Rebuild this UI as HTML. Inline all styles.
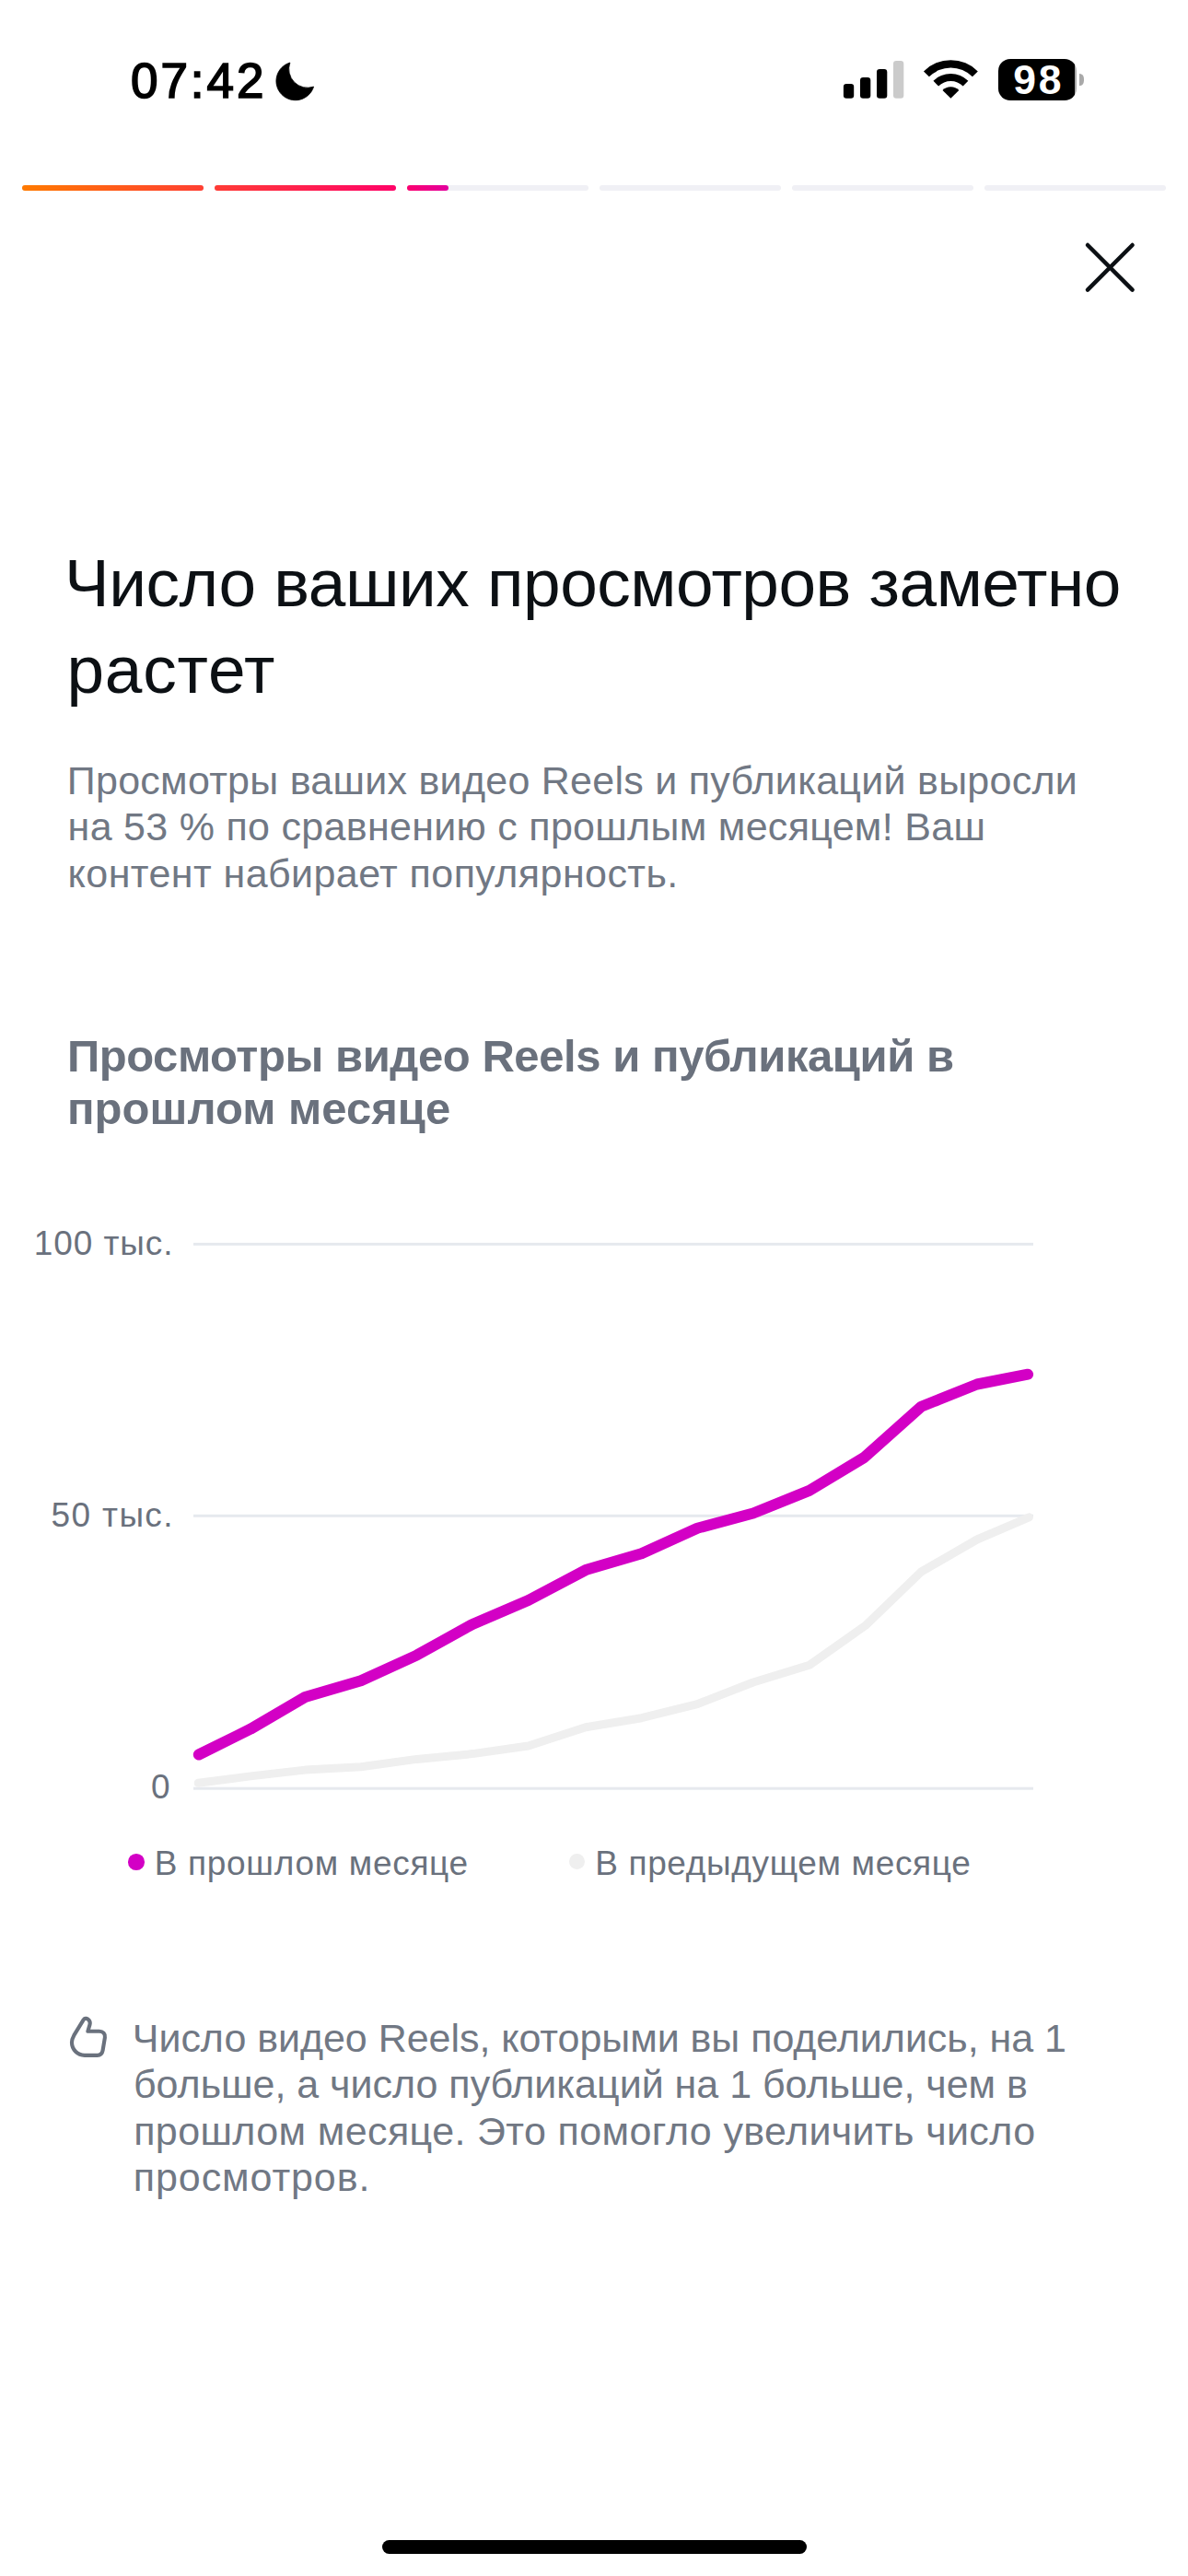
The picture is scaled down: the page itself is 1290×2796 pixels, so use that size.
<!DOCTYPE html>
<html lang="ru"><head><meta charset="utf-8"><title>Insights</title>
<style>
html,body{margin:0;padding:0;background:#fff;}
body{width:1290px;height:2796px;position:relative;overflow:hidden;font-family:"Liberation Sans",sans-serif;}
.a{position:absolute;display:block;}
.t{position:absolute;white-space:nowrap;margin:0;}
</style></head><body>
<div class="t" style="-webkit-text-stroke:1.7px #000;left:141.9px;top:56.00px;font-size:53px;line-height:64px;color:#000;font-weight:400;letter-spacing:3.012px;">07:42</div>
<svg class="a" style="left:290px;top:58px" width="60" height="60" viewBox="290 58 60 60"><path d="M314.9 68.0 A20.8 20.8 0 1 0 340.6 94.1 A20.3 20.3 0 0 1 314.9 68.0 Z" fill="#000" stroke="#000" stroke-width="0.8" stroke-linejoin="round"/></svg>
<svg class="a" style="left:900px;top:50px" width="100" height="70" viewBox="900 50 100 70"><rect x="915.9" y="90.9" width="11.3" height="15.9" rx="3.2" fill="#000"/><rect x="934.0" y="84.1" width="11.3" height="22.7" rx="3.2" fill="#000"/><rect x="952.0" y="75.0" width="11.3" height="31.8" rx="3.2" fill="#000"/><rect x="970.0" y="65.9" width="11.3" height="40.9" rx="3.2" fill="#cbcbcb"/></svg>
<svg class="a" style="left:990px;top:55px" width="90" height="60" viewBox="990 55 90 60"><path d="M1002.98 77.38 A41.6 41.6 0 0 1 1061.82 77.38 L1055.88 83.32 A33.2 33.2 0 0 0 1008.92 83.32 Z" fill="#000"/><path d="M1013.45 87.85 A26.8 26.8 0 0 1 1051.35 87.85 L1045.69 93.51 A18.8 18.8 0 0 0 1019.11 93.51 Z" fill="#000"/><path d="M1032.4 106.8 L1023.49 97.89 A12.6 12.6 0 0 1 1041.31 97.89 Z" fill="#000"/></svg>
<div class="a" style="left:1084px;top:64px;width:85px;height:44.8px;border-radius:13px;background:linear-gradient(to right,#000 0,#000 83.5px,#a9a9a9 83.5px);"></div>
<div class="a" style="left:1172px;top:79.6px;width:5px;height:13.6px;border-radius:0 4.5px 4.5px 0/0 5.5px 5.5px 0;background:#a9a9a9;"></div>
<div class="t" style="left:1100.3px;top:60.00px;font-size:44.5px;line-height:53px;color:#fff;font-weight:700;letter-spacing:2.751px;">98</div>
<div class="a" style="left:24px;top:201px;width:197px;height:6px;border-radius:3px;background:#f0f0f5;"></div>
<div class="a" style="left:233px;top:201px;width:197px;height:6px;border-radius:3px;background:#f0f0f5;"></div>
<div class="a" style="left:442px;top:201px;width:197px;height:6px;border-radius:3px;background:#f0f0f5;"></div>
<div class="a" style="left:651px;top:201px;width:197px;height:6px;border-radius:3px;background:#f0f0f5;"></div>
<div class="a" style="left:860px;top:201px;width:197px;height:6px;border-radius:3px;background:#f0f0f5;"></div>
<div class="a" style="left:1069px;top:201px;width:197px;height:6px;border-radius:3px;background:#f0f0f5;"></div>
<div class="a" style="left:24px;top:201px;width:197px;height:6px;border-radius:3px;background:linear-gradient(to right,#ff7a00 0px,#ff3d34 203px,#ff0169 412px,#e2009e 463px);background-size:1242px 6px;background-position:0px 0;background-repeat:no-repeat;"></div>
<div class="a" style="left:233px;top:201px;width:197px;height:6px;border-radius:3px;background:linear-gradient(to right,#ff7a00 0px,#ff3d34 203px,#ff0169 412px,#e2009e 463px);background-size:1242px 6px;background-position:-209px 0;background-repeat:no-repeat;"></div>
<div class="a" style="left:442px;top:201px;width:45px;height:6px;border-radius:3px;background:linear-gradient(to right,#ff7a00 0px,#ff3d34 203px,#ff0169 412px,#e2009e 463px);background-size:1242px 6px;background-position:-418px 0;background-repeat:no-repeat;"></div>
<svg class="a" style="left:1170px;top:255px" width="70" height="70" viewBox="1170 255 70 70"><path d="M1181 266 L1229.6 314.6 M1229.6 266 L1181 314.6" stroke="#0c1014" stroke-width="4.5" stroke-linecap="round" fill="none"/></svg>
<div class="t" style="left:70.1px;top:589.00px;font-size:73px;line-height:88px;color:#0c1014;font-weight:400;letter-spacing:-0.5px;">Число ваших просмотров заметно</div>
<div class="t" style="left:72.4px;top:683.00px;font-size:73px;line-height:88px;color:#0c1014;font-weight:400;letter-spacing:0.842px;">растет</div>
<div class="t" style="left:72.8px;top:821.00px;font-size:43px;line-height:52px;color:#717884;font-weight:400;letter-spacing:0.264px;">Просмотры ваших видео Reels и публикаций выросли</div>
<div class="t" style="left:73.6px;top:871.00px;font-size:43px;line-height:52px;color:#717884;font-weight:400;letter-spacing:0.294px;">на 53 % по сравнению с прошлым месяцем! Ваш</div>
<div class="t" style="left:73.6px;top:922.00px;font-size:43px;line-height:52px;color:#717884;font-weight:400;letter-spacing:0.427px;">контент набирает популярность.</div>
<div class="t" style="left:73px;top:1117.00px;font-size:49px;line-height:59px;color:#6a717d;font-weight:700;letter-spacing:-0.444px;">Просмотры видео Reels и публикаций в</div>
<div class="t" style="left:73px;top:1174.00px;font-size:49px;line-height:59px;color:#6a717d;font-weight:700;letter-spacing:0.02px;">прошлом месяце</div>
<div class="t" style="left:36.7px;top:1328.00px;font-size:37px;line-height:44px;color:#6a717d;font-weight:400;letter-spacing:0.921px;">100 тыс.</div>
<div class="t" style="left:55.6px;top:1623.00px;font-size:37px;line-height:44px;color:#6a717d;font-weight:400;letter-spacing:1.354px;">50 тыс.</div>
<div class="t" style="left:164px;top:1918.00px;font-size:37px;line-height:44px;color:#6a717d;font-weight:400;letter-spacing:0px;">0</div>
<svg class="a" style="left:0;top:1300px" width="1290" height="700" viewBox="0 1300 1290 700"><rect x="210" y="1348.9" width="912" height="3" fill="#e6e9ee"/><rect x="210" y="1643.8" width="912" height="3" fill="#e6e9ee"/><rect x="210" y="1939.7" width="912" height="3" fill="#e6e9ee"/><polyline points="215.2,1935.3 272,1927.9 331.3,1921.1 391.9,1917.8 452.5,1909.4 513.1,1903.6 573.7,1895 636,1874.8 696.6,1864.7 757.2,1849.6 817.8,1826 879,1807.2 939.7,1764.4 1000.3,1706 1060.9,1671 1117.4,1646.8" fill="none" stroke="#efefef" stroke-width="9" stroke-linecap="round" stroke-linejoin="round"/><polyline points="215.8,1904.5 272,1876.7 331.3,1842 391.9,1824.2 452.5,1796.6 513.1,1762.9 573.7,1737 636,1704.1 696.6,1686.3 757.2,1658.7 817.8,1642.5 878.8,1617.9 938.3,1582 1000.3,1526.7 1060.9,1502.5 1116.1,1491.7" fill="none" stroke="#d300c5" stroke-width="12" stroke-linecap="round" stroke-linejoin="round"/></svg>
<div class="a" style="left:139.4px;top:2012.4px;width:17.6px;height:17.6px;border-radius:50%;background:#d300c5;"></div>
<div class="a" style="left:617.8px;top:2012.4px;width:17px;height:17px;border-radius:50%;background:#efefef;"></div>
<div class="t" style="left:167.7px;top:2001.00px;font-size:37px;line-height:44px;color:#6a717d;font-weight:400;letter-spacing:0.696px;">В прошлом месяце</div>
<div class="t" style="left:646.2px;top:2001.00px;font-size:37px;line-height:44px;color:#6a717d;font-weight:400;letter-spacing:0.652px;">В предыдущем месяце</div>
<svg class="a" style="left:60px;top:2175px" width="70" height="70" viewBox="0 0 1188 1188"><path d="M600 505 L810 505 C880 505 925 555 915 620 L875 860 C865 915 830 948 775 948 L540 948 C412 948 305 845 305 710 C305 660 320 625 345 580 L522 290 C545 255 590 265 620 300 C645 330 645 355 636 385 Z" fill="none" stroke="#6a717d" stroke-width="70" stroke-linejoin="round"/></svg>
<div class="t" style="left:143.8px;top:2186.00px;font-size:43px;line-height:52px;color:#717884;font-weight:400;letter-spacing:-0.041px;">Число видео Reels, которыми вы поделились, на 1</div>
<div class="t" style="left:145px;top:2236.00px;font-size:43px;line-height:52px;color:#717884;font-weight:400;letter-spacing:-0.015px;">больше, а число публикаций на 1 больше, чем в</div>
<div class="t" style="left:145.2px;top:2287.00px;font-size:43px;line-height:52px;color:#717884;font-weight:400;letter-spacing:0.379px;">прошлом месяце. Это помогло увеличить число</div>
<div class="t" style="left:144.8px;top:2337.00px;font-size:43px;line-height:52px;color:#717884;font-weight:400;letter-spacing:0.909px;">просмотров.</div>
<div class="a" style="left:414.5px;top:2757px;width:461.5px;height:15px;border-radius:7.5px;background:#000;"></div>
</body></html>
